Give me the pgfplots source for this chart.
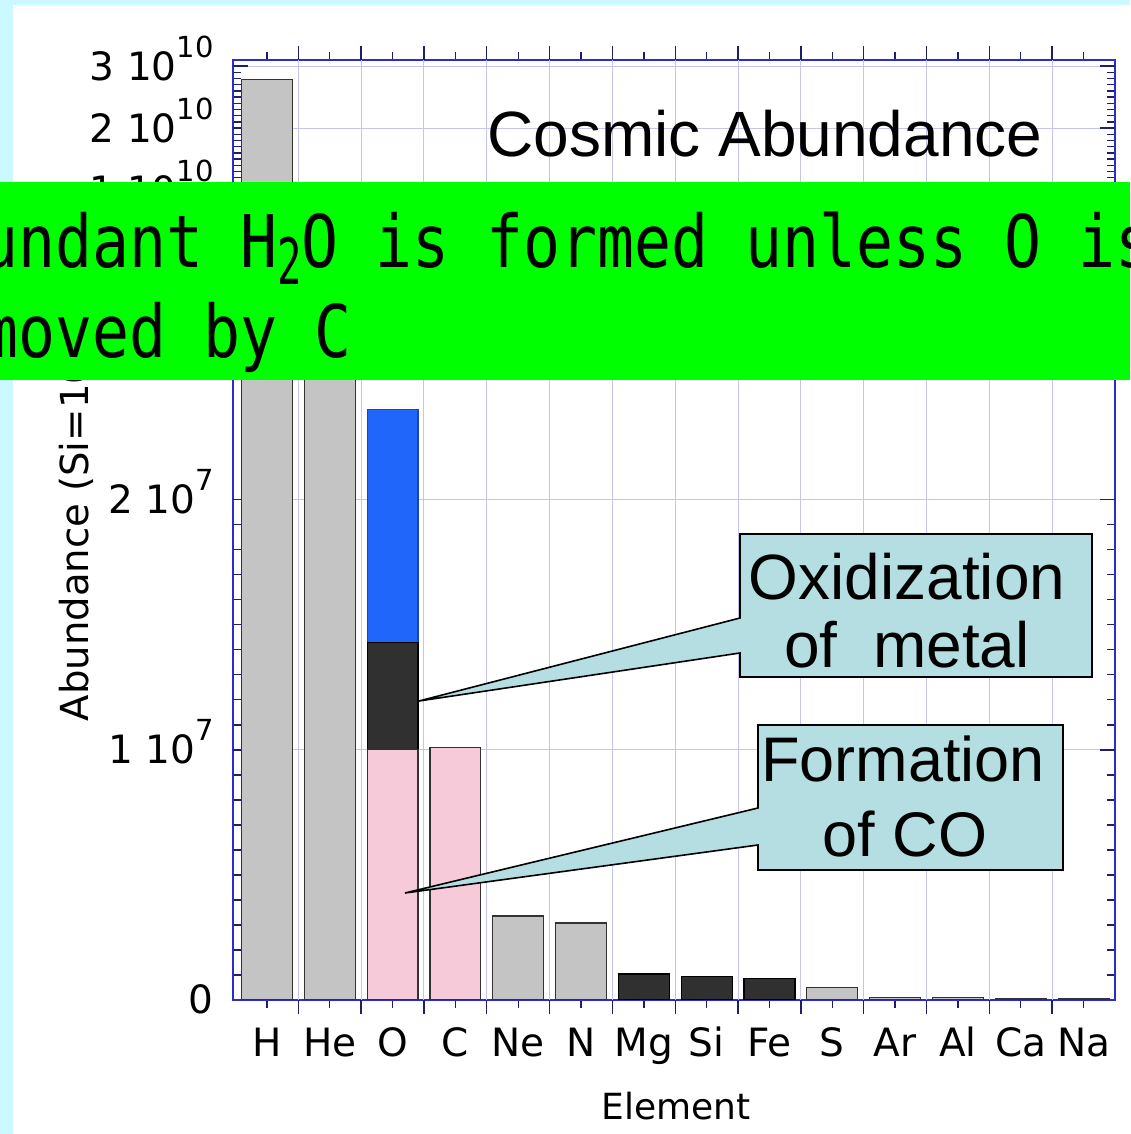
\documentclass[border=0pt]{standalone}
\usepackage{pgfplots}
\pgfplotsset{compat=1.18}
\usepackage{graphicx}
\usepackage{fontspec}
\setmainfont{DejaVu Sans}
\newfontfamily\arialf{Liberation Sans}
\newfontfamily\monof{DejaVu Sans Mono}

\definecolor{bgcyan}{RGB}{202,249,255}
\definecolor{spine}{RGB}{45,45,205}
\definecolor{tickc}{RGB}{30,30,110}
\definecolor{gridc}{RGB}{196,196,236}
\definecolor{barg}{RGB}{196,196,196}
\definecolor{barpink}{RGB}{246,202,216}
\definecolor{bardark}{RGB}{48,48,48}
\definecolor{barblue}{RGB}{32,102,250}
\definecolor{callout}{RGB}{180,222,225}
\definecolor{banner}{RGB}{0,255,0}

% tick label "m 10^e"
\newcommand\tl[2]{#1\ 10\raisebox{11.5pt}{\fontsize{14.5}{15}\selectfont #2}}

\pgfplotsset{
  brk/.style={
    scale only axis, width=441pt,
    xmin=-0.54, xmax=13.5,
    axis line style={draw=spine, line width=1.1pt},
    tick style={draw=tickc, line width=0.7pt},
    major tick length=4pt, minor tick length=4pt,
    xtick={0,...,13},
    extra x ticks={0.5,1.5,...,12.5},
    extra x tick labels={},
    extra x tick style={grid=major, major tick length=7pt},
    ymajorgrids,
    major grid style={draw=gridc, line width=0.5pt},
    ybar, bar width=0.81,
    scaled y ticks=false,
    yticklabel pos=left,
    tick label style={font=\fontsize{19.5}{22}\selectfont},
    yticklabel style={anchor=base east, inner sep=0pt, xshift=-9.5pt, yshift=-7pt},
  }
}

\begin{document}
\begin{tikzpicture}
\useasboundingbox (0,0) rectangle (565pt,567pt);
\clip (0,0) rectangle (565pt,567pt);
\fill[bgcyan] (0,0) rectangle (565pt,567pt);
\fill[white] (6.5pt,0) rectangle (565pt,564.5pt);

% lower part of the broken axis
\begin{axis}[brk, at={(116.5pt,67pt)}, anchor=south west, height=374pt,
  ymin=0, ymax=2.99e7,
  restrict y to domain*=0:3.2e7,
  xtick pos=left,
  xticklabels={H,He,O,C,Ne,N,Mg,Si,Fe,S,Ar,Al,Ca,Na},
  xticklabel style={anchor=base, inner sep=0pt, yshift=-24pt},
  ytick={0,1e7,2e7},
  yticklabels={0,\tl{1}{7},\tl{2}{7}},
  minor y tick num=9,
  extra y ticks={1e7,2e7}, extra y tick labels={},
  extra y tick style={major tick length=7.5pt},
]
\addplot[fill=barblue, draw=barblue!70!black, line width=0.6pt, bar shift=0pt] coordinates {(2,2.36e7)};
\addplot[fill=bardark, draw=black, line width=0.6pt, bar shift=0pt] coordinates {(2,1.43e7) (6,1.04e6) (7,0.95e6) (8,0.86e6)};
\addplot[fill=barpink, draw=black!80, line width=0.6pt, bar shift=0pt] coordinates {(2,1.0e7) (3,1.01e7)};
\addplot[fill=barg, draw=black!80, line width=0.6pt, bar shift=0pt] coordinates {(0,2.79e10) (1,2.72e9) (4,3.36e6) (5,3.08e6) (9,5.0e5) (10,1.0e5) (11,8.5e4) (12,6.1e4) (13,5.7e4)};
\end{axis}

% upper part of the broken axis
\begin{axis}[brk, at={(116.5pt,441pt)}, anchor=south west, height=96pt,
  ymin=0, ymax=3.1e10,
  xtick pos=right,
  xticklabels={},
  ytick={1e10,2e10,3e10},
  yticklabels={\tl{1}{10},\tl{2}{10},\tl{3}{10}},
  minor y tick num=9,
  extra y ticks={1e10,2e10,3e10}, extra y tick labels={},
  extra y tick style={major tick length=7.5pt},
]
\addplot[fill=barg, draw=black!80, line width=0.6pt, bar shift=0pt] coordinates {(0,2.79e10) (1,2.72e9)};
\end{axis}

\begin{scope}[x=0.5pt, y=-0.5pt, yshift=567pt]
  % titles and labels
  \node[anchor=base west, inner sep=0pt] at (487,157) {\arialf\fontsize{32}{36}\selectfont Cosmic Abundance};
  \node[rotate=90, anchor=base, inner sep=0pt] at (88,524) {\fontsize{19.3}{22}\selectfont Abundance (Si=10\textsuperscript{6})};
  \node[anchor=base, inner sep=0pt] at (676,1120) {\fontsize{18}{20}\selectfont Element};

  % callout 1
  \filldraw[fill=callout, draw=black, line width=0.8pt, line join=miter]
    (740,534) -- (1092,534) -- (1092,677) -- (740,677) -- (740,653) -- (419,701) -- (740,618) -- cycle;
  \node[anchor=base, inner sep=0pt] at (907,600) {\arialf\fontsize{32}{36}\selectfont Oxidization};
  \node[anchor=base, inner sep=0pt] at (907,668) {\arialf\fontsize{32}{36}\selectfont of~ metal};

  % callout 2
  \filldraw[fill=callout, draw=black, line width=0.8pt, line join=miter]
    (758,725) -- (1063,725) -- (1063,870) -- (758,870) -- (758,845) -- (405,893) -- (758,808) -- cycle;
  \node[anchor=base, inner sep=0pt] at (903,782) {\arialf\fontsize{31.5}{36}\selectfont Formation};
  \node[anchor=base, inner sep=0pt] at (905,857) {\arialf\fontsize{31.5}{36}\selectfont of CO};

  % green banner
  \fill[banner] (0,182) rectangle (1130,380);
  \node[anchor=base west, inner sep=0pt] at (-19,268) {\monof\fontsize{36.35}{40}\selectfont\scalebox{0.845}[1]{undant H\raisebox{-8.5pt}{\scalebox{0.66}[0.88]{2}}O is formed unless O is}};
  \node[anchor=base west, inner sep=0pt] at (-19,358) {\monof\fontsize{36.35}{40}\selectfont\scalebox{0.845}[1]{moved by C}};
\end{scope}
\end{tikzpicture}
\end{document}
